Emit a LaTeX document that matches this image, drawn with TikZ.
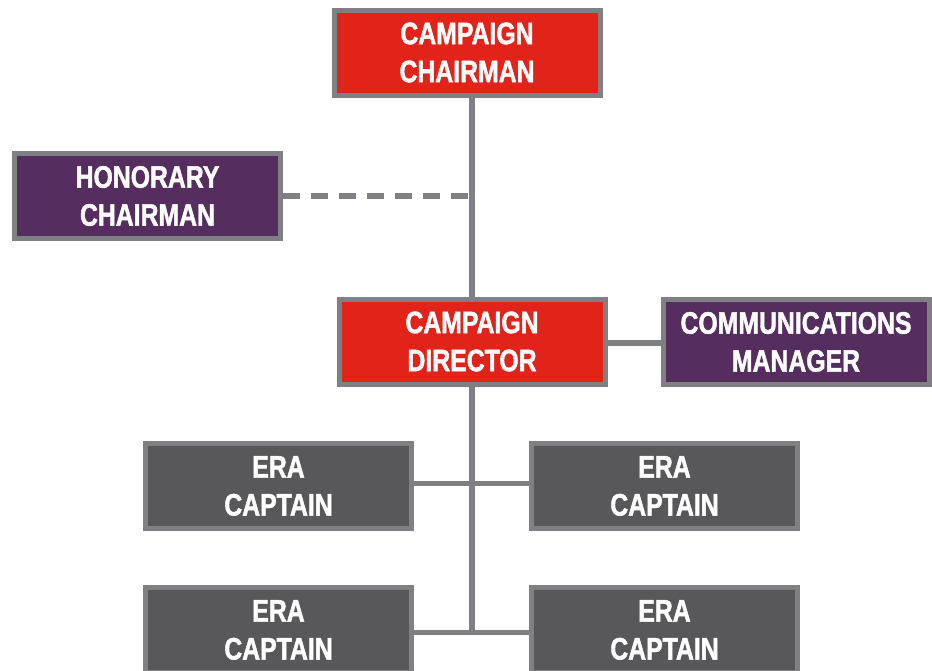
\documentclass[tikz,border=0pt]{standalone}
\usepackage{fontspec}
\setmainfont{Liberation Sans}[FakeStretch=0.8, BoldFeatures={FakeBold=1.5}]
\definecolor{chartred}{HTML}{E2231A}
\definecolor{chartpurple}{HTML}{552D5E}
\definecolor{chartdark}{HTML}{58585A}
\definecolor{chartgray}{HTML}{808084}
\begin{document}
\begin{tikzpicture}[x=1pt,y=-1pt,
  orgbox/.style={draw=chartgray, line width=5pt, text=white, align=center,
    inner sep=0pt, minimum width=266pt, minimum height=85pt,
    font=\bfseries\fontsize{31}{38}\selectfont},
  redbox/.style={orgbox, fill=chartred},
  purplebox/.style={orgbox, fill=chartpurple},
  darkbox/.style={orgbox, fill=chartdark},
  link/.style={draw=chartgray, line width=5.5pt},
  duty/.style={link, dash pattern=on 17pt off 11pt}]
\useasboundingbox (0,0) rectangle (932,670);
\clip (0,0) rectangle (932,670);

% boxes
\node[redbox] (cc) at (467,52.5) {CAMPAIGN\\CHAIRMAN};
\node[purplebox] (hc) at (147.5,196) {HONORARY\\CHAIRMAN};
\node[redbox] (cd) at (472,341.5) {CAMPAIGN\\DIRECTOR};
\node[purplebox] (cm) at (796,342) {COMMUNICATIONS\\MANAGER};
\node[darkbox] (era1) at (278.5,486) {ERA\\CAPTAIN};
\node[darkbox] (era2) at (664.5,486) {ERA\\CAPTAIN};
\node[darkbox] (era3) at (278.5,630) {ERA\\CAPTAIN};
\node[darkbox] (era4) at (664.5,630) {ERA\\CAPTAIN};

% junctions on the main trunk
\coordinate (j1) at (472,483.5);
\coordinate (j2) at (472,632.5);

% connectors
\draw[link] (cc.south -| j1) -- (cd.north -| j1);
\draw[duty] (hc.east) -- (hc.east -| j1);
\draw[link] (cd.east |- 0,343) -- (cm.west |- 0,343);
\draw[link] (cd.south -| j1) -- (j2);
\draw[link] (j1 -| era1.east) -- (j1 -| era2.west);
\draw[link] (j2 -| era3.east) -- (j2 -| era4.west);
\end{tikzpicture}
\end{document}
